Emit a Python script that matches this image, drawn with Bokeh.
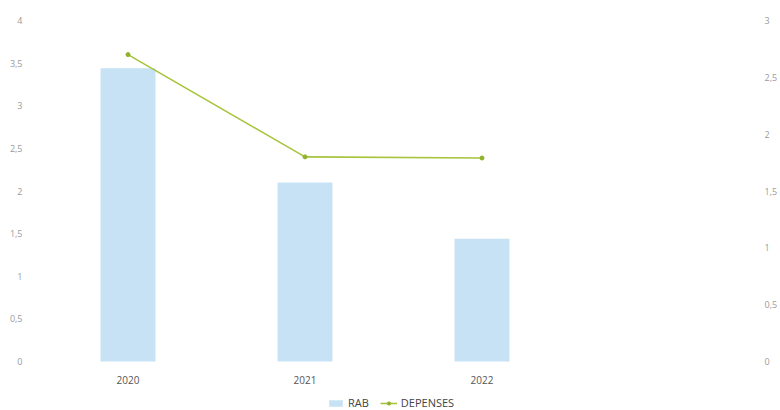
from bokeh.plotting import figure
from bokeh.models import (FactorRange, Range1d, LinearAxis, FixedTicker,
                          Legend, LegendItem, ColumnDataSource)
from bokeh.core.properties import value
from bokeh.embed import file_html
from bokeh.resources import INLINE

# Categories (a trailing blank slot keeps the original spacing)
years = ["2020", "2021", "2022", " "]
rab = [3.44, 2.10, 1.44]
depenses = [2.70, 1.80, 1.79]

left_ticks = [0, 0.5, 1, 1.5, 2, 2.5, 3, 3.5, 4]
right_ticks = [0, 0.5, 1, 1.5, 2, 2.5, 3]

LEFT_MAX = 4
RIGHT_MAX = 3
# room under the zero line for category names and the legend, as a share
# of the axis height
BOTTOM_SHARE = 49 / 341


def fr_label(v):
    return ("%g" % v).replace(".", ",")


FONT = "Open Sans"

p = figure(width=780, height=410, output_backend="svg", toolbar_location=None,
           x_range=FactorRange(factors=years),
           y_range=Range1d(-LEFT_MAX * BOTTOM_SHARE, LEFT_MAX),
           x_axis_location=None,
           min_border_left=39, min_border_right=27,
           min_border_top=20, min_border_bottom=0)
p.outline_line_color = None
p.background_fill_color = "white"
p.border_fill_color = "white"
p.xgrid.grid_line_color = None
p.ygrid.grid_line_color = None

p.extra_y_ranges = {"dep": Range1d(-RIGHT_MAX * BOTTOM_SHARE, RIGHT_MAX)}

bars = ColumnDataSource(dict(x=years[:3], top=rab))
line = ColumnDataSource(dict(x=years[:3], y=depenses))
cats = ColumnDataSource(dict(x=years[:3], y=[0] * 3, t=years[:3]))

r_bar = p.vbar(x="x", top="top", bottom=0, width=0.31, source=bars,
               fill_color="#c6e2f4", line_color=None)
r_line = p.line(x="x", y="y", source=line, y_range_name="dep",
                line_color="#a6c43c", line_width=1.6)
r_pts = p.scatter(x="x", y="y", source=line, y_range_name="dep",
                  size=4, fill_color="#8fb22a", line_color="#8fb22a")

# category names under the zero line
p.text(x="x", y="y", text="t", source=cats, y_offset=18,
       text_font=value(FONT), text_font_size="10px", text_color="#555555",
       text_align="center", text_baseline="middle")

# Left axis
ya = p.yaxis[0]
ya.ticker = FixedTicker(ticks=left_ticks)
ya.major_label_overrides = {t: fr_label(t) for t in left_ticks}

# Right axis
yr = LinearAxis(y_range_name="dep", ticker=FixedTicker(ticks=right_ticks))
yr.major_label_overrides = {t: fr_label(t) for t in right_ticks}
p.add_layout(yr, "right")

for ax in (ya, yr):
    ax.axis_line_color = None
    ax.major_tick_line_color = None
    ax.minor_tick_line_color = None
    ax.major_label_text_font = FONT
    ax.major_label_text_font_size = "9px"
    ax.major_label_text_color = "#9a9a9a"
    ax.major_label_standoff = 11

legend = Legend(items=[LegendItem(label="RAB", renderers=[r_bar]),
                       LegendItem(label="DEPENSES", renderers=[r_line, r_pts])],
                orientation="horizontal", location=(288, 0))
legend.label_text_font = FONT
legend.label_text_font_size = "11px"
legend.label_text_color = "#444444"
legend.background_fill_alpha = 0
legend.border_line_color = None
legend.glyph_width = 17
legend.glyph_height = 8
legend.spacing = 11
legend.label_standoff = 4
legend.padding = 2
legend.margin = 0
p.add_layout(legend, "center")

open("out.html", "w").write(file_html(p, INLINE))
